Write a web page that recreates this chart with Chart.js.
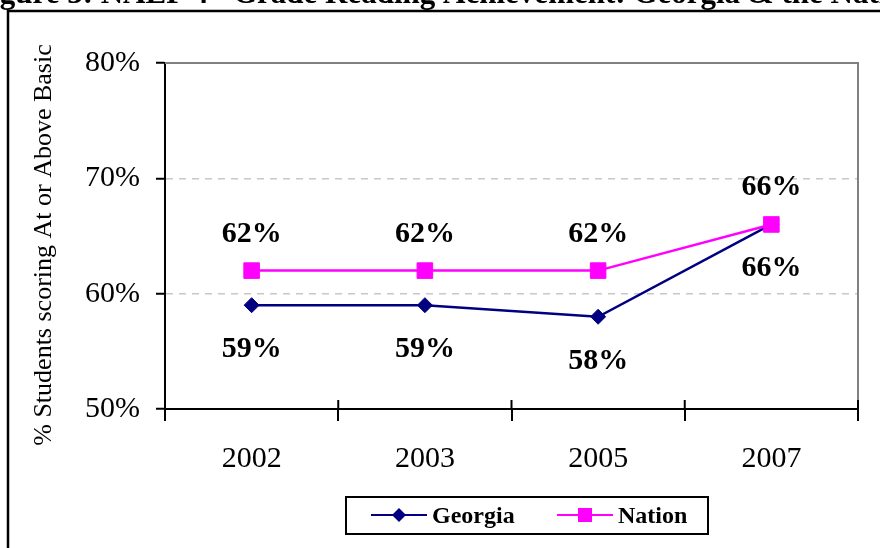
<!DOCTYPE html>
<html>
<head>
<meta charset="utf-8">
<script src="https://cdn.jsdelivr.net/npm/chart.js@4.4.0/dist/chart.umd.min.js"></script>
<style>
  html, body { margin: 0; padding: 0; background: #fff; }
  #wrap { width: 880px; height: 548px; position: relative; overflow: hidden; }
</style>
</head>
<body>
<div id="wrap"><canvas id="chart" width="880" height="548"></canvas></div>
<script>
const years = ['2002', '2003', '2005', '2007'];
const georgia = [59, 59, 58, 66];
const nation = [62, 62, 62, 66];
const yTicks = [50, 60, 70, 80];
const seriesNames = ['Georgia', 'Nation'];
const seriesColors = ['#000080', '#FF00FF'];
const axisTitle = '% Students scoring At or Above Basic';
const titleParts = ['Figure 3: NAEP 4', 'th', ' Grade Reading Achievement: Georgia & the Nation'];

const serif = '"Liberation Serif", "Times New Roman", serif';

// page frame, cut-off title and the rotated axis title
const backdrop = {
  id: 'backdrop',
  beforeDraw(chart) {
    const ctx = chart.ctx;
    ctx.save();
    ctx.fillStyle = '#000';
    ctx.textBaseline = 'alphabetic';
    // anchor the title so "Grade" starts where it does in the figure
    ctx.font = 'bold 31px ' + serif;
    const w0 = ctx.measureText(titleParts[0]).width;
    ctx.font = 'bold 19px ' + serif;
    const wSup = ctx.measureText(titleParts[1]).width;
    ctx.font = 'bold 31px ' + serif;
    const wSp = ctx.measureText(' ').width;
    const x = 233 - wSp - wSup - w0;
    ctx.fillText(titleParts[0], x, 3);
    ctx.font = 'bold 19px ' + serif;
    ctx.fillText(titleParts[1], x + w0, -7);
    ctx.font = 'bold 31px ' + serif;
    ctx.fillText(titleParts[2], x + w0 + wSup, 3);

    ctx.strokeStyle = '#000';
    ctx.lineWidth = 2.5;
    ctx.beginPath();
    ctx.moveTo(8, 560);
    ctx.lineTo(8, 11);
    ctx.lineTo(890, 11);
    ctx.stroke();

    ctx.translate(51, 245);
    ctx.rotate(-Math.PI / 2);
    ctx.font = '26px ' + serif;
    ctx.textAlign = 'center';
    ctx.fillText(axisTitle, 0, 0);
    ctx.restore();
  },
  beforeDatasetsDraw(chart) {
    const {ctx, chartArea: a} = chart;
    ctx.save();
    ctx.strokeStyle = '#808080';
    ctx.lineWidth = 2;
    ctx.beginPath();
    ctx.moveTo(a.left, a.top);
    ctx.lineTo(a.right, a.top);
    ctx.lineTo(a.right, a.bottom);
    ctx.stroke();
    // category ticks cross the axis in the original
    ctx.strokeStyle = '#000';
    const n = years.length;
    for (let i = 0; i <= n; i++) {
      const px = a.left + i * (a.right - a.left) / n;
      ctx.beginPath();
      ctx.moveTo(px, a.bottom - 9);
      ctx.lineTo(px, a.bottom);
      ctx.stroke();
    }
    ctx.restore();
  }
};

const valueLabels = {
  id: 'valueLabels',
  afterDatasetsDraw(chart) {
    const ctx = chart.ctx;
    ctx.save();
    ctx.fillStyle = '#000';
    ctx.font = 'bold 30px ' + serif;
    ctx.textAlign = 'center';
    ctx.textBaseline = 'alphabetic';
    chart.data.datasets.forEach((ds, di) => {
      chart.getDatasetMeta(di).data.forEach((pt, i) => {
        const dy = di === 0 ? 52 : -29;
        ctx.fillText(ds.data[i] + '%', pt.x, pt.y + dy);
      });
    });
    ctx.restore();
  }
};

const boxLegend = {
  id: 'boxLegend',
  afterDraw(chart) {
    const ctx = chart.ctx;
    ctx.save();
    ctx.strokeStyle = '#000';
    ctx.lineWidth = 2;
    ctx.strokeRect(346, 497, 362, 37);
    const items = [
      {x: 371, text: 432},
      {x: 557, text: 618}
    ];
    items.forEach((it, i) => {
      const y = 515;
      ctx.strokeStyle = seriesColors[i];
      ctx.fillStyle = seriesColors[i];
      ctx.lineWidth = 2;
      ctx.beginPath();
      ctx.moveTo(it.x, y);
      ctx.lineTo(it.x + 56, y);
      ctx.stroke();
      const cx = it.x + 28;
      ctx.beginPath();
      if (i === 0) {
        ctx.moveTo(cx, y - 7);
        ctx.lineTo(cx + 7, y);
        ctx.lineTo(cx, y + 7);
        ctx.lineTo(cx - 7, y);
        ctx.closePath();
      } else {
        ctx.rect(cx - 7, y - 7, 14, 14);
      }
      ctx.fill();
      ctx.fillStyle = '#000';
      ctx.font = 'bold 24px ' + serif;
      ctx.textBaseline = 'alphabetic';
      ctx.fillText(seriesNames[i], it.text, 523);
    });
    ctx.restore();
  }
};

new Chart(document.getElementById('chart'), {
  type: 'line',
  data: {
    labels: years,
    datasets: [
      {
        label: seriesNames[0],
        data: georgia,
        borderColor: seriesColors[0],
        backgroundColor: seriesColors[0],
        borderWidth: 2.5,
        pointStyle: 'rectRot',
        pointRadius: 7.5,
        pointBorderWidth: 1,
        tension: 0,
        order: 2
      },
      {
        label: seriesNames[1],
        data: nation,
        borderColor: seriesColors[1],
        backgroundColor: seriesColors[1],
        borderWidth: 2.5,
        pointStyle: 'rect',
        pointRadius: 11,
        pointBorderWidth: 1,
        tension: 0,
        order: 1
      }
    ]
  },
  options: {
    responsive: false,
    animation: false,
    devicePixelRatio: 1,
    layout: { padding: { top: 63, right: 22, left: 0, bottom: 0 } },
    plugins: {
      legend: { display: false },
      tooltip: { enabled: false },
      title: { display: false }
    },
    scales: {
      x: {
        offset: true,
        grid: {
          offset: true,
          drawOnChartArea: false,
          color: '#000',
          tickColor: '#000',
          tickLength: 12,
          tickWidth: 2,
          lineWidth: 2
        },
        border: { color: '#000', width: 2 },
        ticks: {
          color: '#000',
          font: { family: serif, size: 30 },
          padding: 20,
          maxRotation: 0,
          autoSkip: false
        },
        afterFit: (s) => { s.height = 139; }
      },
      y: {
        min: 50,
        max: 80,
        afterBuildTicks: (s) => { s.ticks = yTicks.map(v => ({ value: v })); },
        ticks: {
          color: '#000',
          font: { family: serif, size: 30 },
          padding: 16,
          callback: (v) => v + '%'
        },
        grid: {
          color: (c) => (c.tick && (c.tick.value === 60 || c.tick.value === 70)) ? '#c8c8c8' : 'rgba(0,0,0,0)',
          lineWidth: 1.5,
          tickColor: '#000',
          tickLength: 9,
          tickWidth: 2
        },
        border: { color: '#000', width: 2, dash: [7, 6] },
        afterFit: (s) => { s.width = 165; }
      }
    }
  },
  plugins: [backdrop, valueLabels, boxLegend]
});
</script>
</body>
</html>
